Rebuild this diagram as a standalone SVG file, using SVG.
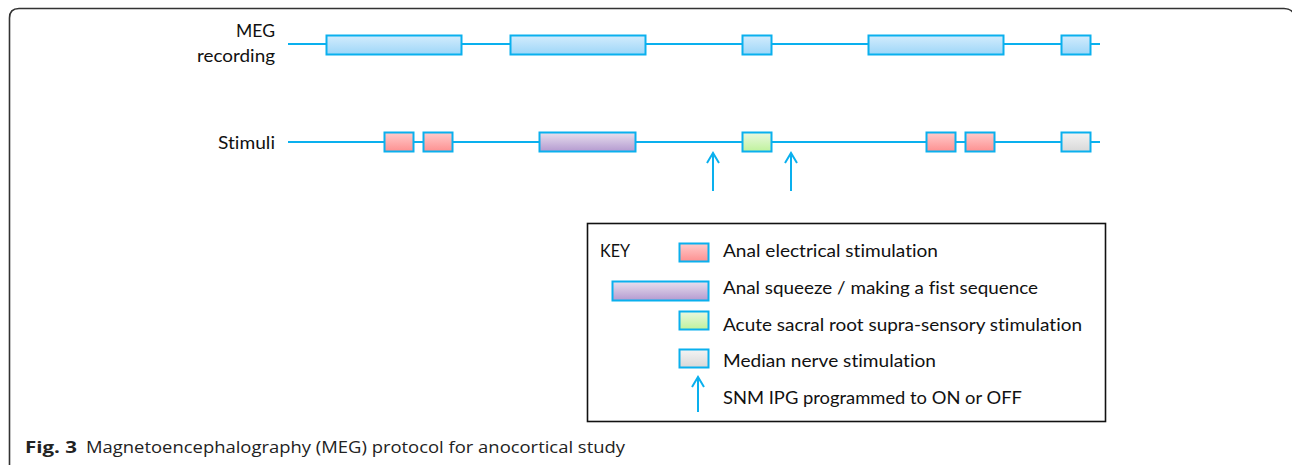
<svg xmlns="http://www.w3.org/2000/svg" width="1292" height="465" viewBox="0 0 1292 465">
<defs>
<linearGradient id="gBlue" x1="0" y1="0" x2="0" y2="1"><stop offset="0" stop-color="#d3ecfd"/><stop offset="1" stop-color="#9dd6f8"/></linearGradient>
<linearGradient id="gPink" x1="0" y1="0" x2="0" y2="1"><stop offset="0" stop-color="#ffcccc"/><stop offset="1" stop-color="#fd9090"/></linearGradient>
<linearGradient id="gPurple" x1="0" y1="0" x2="0" y2="1"><stop offset="0" stop-color="#e8e0ee"/><stop offset="1" stop-color="#b49ad0"/></linearGradient>
<linearGradient id="gGreen" x1="0" y1="0" x2="0" y2="1"><stop offset="0" stop-color="#eaf8e0"/><stop offset="1" stop-color="#bff29c"/></linearGradient>
<linearGradient id="gGray" x1="0" y1="0" x2="0" y2="1"><stop offset="0" stop-color="#f4f4f4"/><stop offset="1" stop-color="#d8d8d8"/></linearGradient>
</defs>
<style>
.ln{stroke:#0ab0ee;stroke-width:2.2;fill:none}
.bx{stroke:#0ab0ee;stroke-width:2}
.t{font-family:Lato,"Liberation Sans",sans-serif;font-size:17.5px;fill:#111;font-variant-ligatures:none}
.cap{font-family:"Open Sans","Liberation Sans",sans-serif;font-size:15.5px;fill:#222;font-variant-ligatures:none}
.ar{stroke:#0ab0ee;stroke-width:2;fill:none}
</style>
<rect width="1292" height="465" fill="#fff"/>
<path d="M9.5,470 V18 Q9.5,8.5 19,8.5 H1284 Q1291,8.5 1294,14" fill="none" stroke="#333" stroke-width="1.6"/>
<g id="labels">
<text class="t" x="236" y="37" textLength="39" lengthAdjust="spacingAndGlyphs">MEG</text>
<text class="t" x="197" y="62" textLength="78" lengthAdjust="spacingAndGlyphs">recording</text>
<text class="t" x="218" y="149" textLength="57" lengthAdjust="spacingAndGlyphs">Stimuli</text>
</g>
<g id="connectors">
<line class="ln" x1="288" y1="44" x2="1100" y2="44"/>
<line class="ln" x1="288" y1="142" x2="1100" y2="142"/>
<path class="ar" d="M713,191 V154 M707,163 L713,153 L719,163"/>
<path class="ar" d="M791,191 V154 M785,163 L791,153 L797,163"/>
</g>
<g id="meg-boxes">
<rect id="meg1" class="bx" x="326.5" y="35.5" width="135" height="19" fill="url(#gBlue)"/>
<rect id="meg2" class="bx" x="510.5" y="35.5" width="135" height="19" fill="url(#gBlue)"/>
<rect id="meg3" class="bx" x="742.5" y="35.5" width="29" height="19" fill="url(#gBlue)"/>
<rect id="meg4" class="bx" x="868.5" y="35.5" width="135" height="19" fill="url(#gBlue)"/>
<rect id="meg5" class="bx" x="1061.5" y="35.5" width="29" height="19" fill="url(#gBlue)"/>
</g>
<g id="stim-boxes">
<rect id="s1" class="bx" x="384.5" y="132.5" width="29" height="19" fill="url(#gPink)"/>
<rect id="s2" class="bx" x="423.5" y="132.5" width="29" height="19" fill="url(#gPink)"/>
<rect id="s3" class="bx" x="539.5" y="132.5" width="96" height="19" fill="url(#gPurple)"/>
<rect id="s4" class="bx" x="742.5" y="132.5" width="29" height="19" fill="url(#gGreen)"/>
<rect id="s5" class="bx" x="926.5" y="132.5" width="29" height="19" fill="url(#gPink)"/>
<rect id="s6" class="bx" x="965.5" y="132.5" width="29" height="19" fill="url(#gPink)"/>
<rect id="s7" class="bx" x="1061.5" y="132.5" width="29" height="19" fill="url(#gGray)"/>
</g>
<g id="key">
<rect x="587.5" y="223.5" width="518" height="198" fill="#fff" stroke="#111" stroke-width="1.6"/>
<text class="t" x="600" y="257" textLength="30" lengthAdjust="spacingAndGlyphs">KEY</text>
<rect class="bx" x="679.5" y="243.5" width="29" height="18" fill="url(#gPink)"/>
<text class="t" x="723" y="257" textLength="215" lengthAdjust="spacingAndGlyphs">Anal electrical stimulation</text>
<rect class="bx" x="612.5" y="281.5" width="96" height="19" fill="url(#gPurple)"/>
<text class="t" x="723" y="294" textLength="315" lengthAdjust="spacingAndGlyphs">Anal squeeze / making a fist sequence</text>
<rect class="bx" x="679.5" y="311.5" width="29" height="18" fill="url(#gGreen)"/>
<text class="t" x="723" y="331" textLength="359" lengthAdjust="spacingAndGlyphs">Acute sacral root supra-sensory stimulation</text>
<rect class="bx" x="679.5" y="349.5" width="29" height="18" fill="url(#gGray)"/>
<text class="t" x="723" y="367" textLength="213" lengthAdjust="spacingAndGlyphs">Median nerve stimulation</text>
<path class="ar" d="M698,412 V378 M692,387 L698,377 L704,387"/>
<text class="t" x="723" y="404" textLength="299" lengthAdjust="spacingAndGlyphs">SNM IPG programmed to ON or OFF</text>
</g>
<g id="caption">
<text class="cap" x="25" y="453" font-weight="bold" textLength="52" lengthAdjust="spacingAndGlyphs">Fig. 3</text>
<text class="cap" x="86" y="453" textLength="539" lengthAdjust="spacingAndGlyphs">Magnetoencephalography (MEG) protocol for anocortical study</text>
</g>
</svg>
